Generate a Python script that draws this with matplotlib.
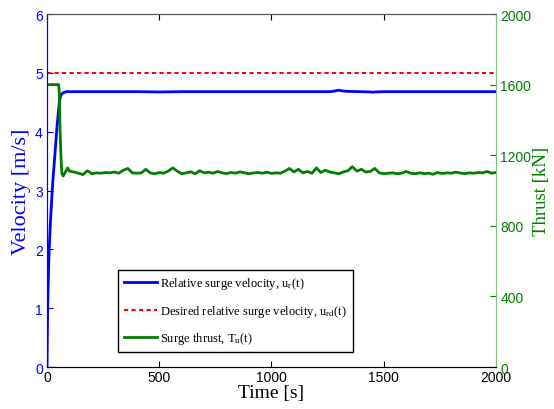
import matplotlib
matplotlib.use("Agg")
import matplotlib.pyplot as plt

plt.rcParams["mathtext.fontset"] = "stix"

# velocity samples [s], [m/s]
t_vel = [0, 3, 8, 15, 25, 35, 45, 55, 60, 65, 72, 85, 100, 200, 300, 400, 500, 600, 700,
         800, 900, 1000, 1100, 1200, 1260, 1280, 1300, 1320, 1340, 1400, 1440, 1450,
         1460, 1500, 1600, 1700, 1800, 1900, 2000]
u_r = [0, 1.0, 1.8, 2.45, 3.1, 3.6, 4.1, 4.5, 4.6, 4.64, 4.66, 4.68, 4.68, 4.68, 4.68,
       4.68, 4.675, 4.68, 4.68, 4.68, 4.68, 4.68, 4.68, 4.68, 4.68, 4.69, 4.705, 4.69,
       4.685, 4.68, 4.675, 4.67, 4.675, 4.68, 4.68, 4.68, 4.68, 4.68, 4.68]
u_rd = 5.0

# thrust samples [s], [kN]
t_thr = [0, 52, 55, 58, 62, 66, 72, 80, 92] + list(range(100, 2001, 20))
T_u = [1600, 1600, 1550, 1350, 1200, 1100, 1082, 1100, 1128,
       1110, 1105, 1098, 1090, 1112, 1095, 1100, 1098, 1102, 1100,
       1105, 1098, 1115, 1125, 1100, 1098, 1100, 1120, 1100, 1095,
       1102, 1098, 1110, 1128, 1110, 1095, 1100, 1106, 1095, 1112,
       1100, 1104, 1098, 1108, 1100, 1096, 1102, 1098, 1106, 1100,
       1095, 1100, 1102, 1098, 1104, 1097, 1100, 1098, 1110, 1125,
       1105, 1120, 1100, 1108, 1098, 1128, 1102, 1115, 1105, 1100,
       1095, 1105, 1112, 1135, 1110, 1120, 1105, 1108, 1125, 1100,
       1095, 1098, 1100, 1095, 1098, 1108, 1098, 1095, 1100, 1096,
       1098, 1092, 1102, 1096, 1100, 1098, 1104, 1100, 1095, 1100,
       1098, 1102, 1100, 1108, 1098, 1102]

blue = "#0000ff"
green = "#007f00"
red = "#ff0000"
serif = "Liberation Serif"

fig = plt.figure(figsize=(5.54, 4.10), dpi=100)
ax1 = fig.add_axes([0.0848, 0.1024, 0.8105, 0.861])
ax2 = ax1.twinx()

l1, = ax1.plot(t_vel, u_r, color=blue, lw=2, label=r"Relative surge velocity, u$_\mathrm{r}$(t)")
l2, = ax1.plot([0, 2000], [u_rd, u_rd], color=red, lw=1.5, ls=(0, (2, 1.6)),
               label=r"Desired relative surge velocity, u$_\mathrm{rd}$(t)")
l3, = ax2.plot(t_thr, T_u, color=green, lw=2, label=r"Surge thrust, T$_\mathrm{u}$(t)")

ax1.set_xlim(0, 2000)
ax1.set_ylim(0, 6)
ax2.set_ylim(0, 2000)
ax1.set_xticks([0, 500, 1000, 1500, 2000])
ax1.set_yticks(range(0, 7))
ax2.set_yticks([0, 400, 800, 1200, 1600, 2000])

for ax in (ax1, ax2):
    ax.tick_params(direction="in", labelsize=10, length=4, pad=3)
    for lab in ax.get_xticklabels() + ax.get_yticklabels():
        lab.set_family("Liberation Sans")
ax1.tick_params(axis="y", colors=blue)
ax2.tick_params(axis="y", colors=green)
ax1.tick_params(axis="x", top=True, pad=2)

ax1.spines["left"].set_color(blue)
ax2.spines["left"].set_color(blue)
ax2.spines["right"].set_color("#80c080")
ax1.spines["right"].set_visible(False)
ax2.spines["top"].set_color("#555555")
ax1.spines["top"].set_color("#555555")

ax1.set_xlabel("Time [s]", family=serif, fontsize=14)
ax1.set_ylabel("Velocity [m/s]", family=serif, fontsize=16, color=blue)
ax2.set_ylabel("Thrust [kN]", family=serif, fontsize=13.5, color=green)
ax1.xaxis.set_label_coords(0.5, -0.048)
ax1.yaxis.set_label_coords(-0.036, 0.5)
ax2.yaxis.set_label_coords(1.082, 0.5)

leg = ax2.legend(handles=[l1, l2, l3], loc="lower left", bbox_to_anchor=(0.158, 0.0425),
                 borderaxespad=0, prop={"family": serif, "size": 9}, fancybox=False,
                 framealpha=1, edgecolor="black", handlelength=2.7, handletextpad=0.25,
                 labelspacing=0.92, borderpad=0.45)
leg.get_frame().set_linewidth(1)

fig.savefig("out.png", dpi=100)
